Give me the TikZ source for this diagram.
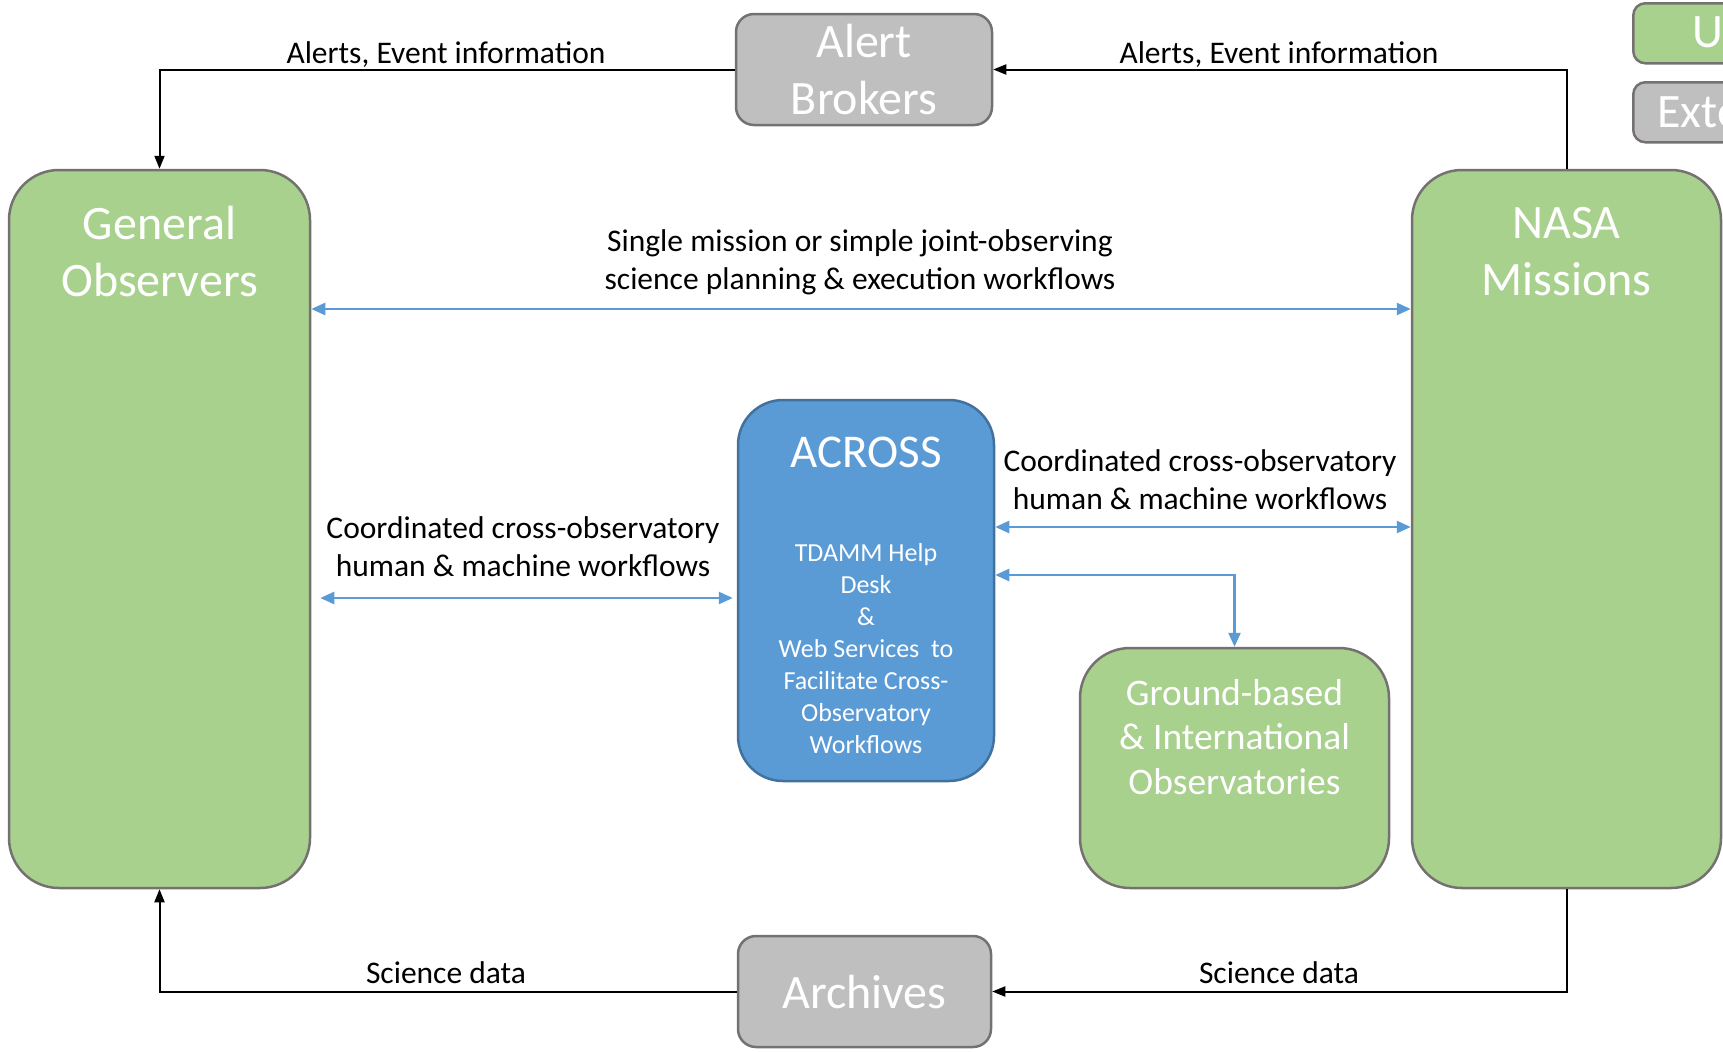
\documentclass[tikz,border=0pt]{standalone}
\usepackage{fontspec}
\setmainfont{Carlito}
\usetikzlibrary{arrows.meta}

\definecolor{boxgreen}{RGB}{169,209,142}
\definecolor{boxgrey}{RGB}{191,191,191}
\definecolor{boxblue}{RGB}{91,155,213}
\definecolor{edgegrey}{RGB}{118,113,113}
\definecolor{edgeblue}{RGB}{65,113,156}

\newcommand\titlefont{\fontsize{48}{57}\selectfont}
\newcommand\groundfont{\fontsize{37.5}{44.5}\selectfont}
\newcommand\smallfont{\fontsize{26}{32}\selectfont}
\newcommand\labelfont{\fontsize{31.5}{38}\selectfont}

\tikzset{every picture/.style={line width=1pt},
  greenbox/.style={draw=edgegrey, fill=boxgreen, line width=2.5pt, rounded corners=50pt, inner sep=0pt},
  greybox/.style={draw=edgegrey, fill=boxgrey, line width=2.5pt, rounded corners=18pt, inner sep=0pt, text=white, align=center, font=\titlefont},
  bluebox/.style={draw=edgeblue, fill=boxblue, line width=2.5pt, rounded corners=45pt, inner sep=0pt},
  boxtext/.style={text=white, align=center, inner sep=0pt},
  flowlabel/.style={align=center, inner sep=0pt, font=\labelfont},
  blackflow/.style={draw=black, line width=2pt, -{Triangle[width=10pt,length=13pt]}},
  blueflow/.style={draw=boxblue, line width=2.5pt, {Triangle[width=12pt,length=14pt]}-{Triangle[width=12pt,length=14pt]}}}

\begin{document}
\begin{tikzpicture}[x=1pt,y=1pt,yscale=-1]
	\useasboundingbox (0,0) rectangle (1723,1052);
	\clip (0,0) rectangle (1723,1052);

	%Shape: Rounded Rectangle [General Observers]
	\node [greenbox, minimum width=301pt, minimum height=718pt] (go) at (159.5,529) {};
	%Shape: Rounded Rectangle [NASA Missions]
	\node [greenbox, minimum width=309pt, minimum height=718pt] (nasa) at (1566.5,529) {};
	%Shape: Rounded Rectangle [Alert Brokers]
	\node [greybox, minimum width=256pt, minimum height=111pt] (brokers) at (864,69.5) {Alert\\Brokers};
	%Shape: Rounded Rectangle [Archives]
	\node [greybox, minimum width=253pt, minimum height=111pt] (archives) at (864.5,991.5) {Archives};
	%Shape: Rounded Rectangle [ACROSS]
	\node [bluebox, minimum width=256pt, minimum height=381pt] (across) at (866,590.5) {};
	%Shape: Rounded Rectangle [Ground-based]
	\node [greenbox, minimum width=309pt, minimum height=240pt] (ground) at (1234.5,768) {};
	%Shape: Legend boxes
	\node [greenbox, rounded corners=12pt, minimum width=200pt, minimum height=60pt, anchor=north west] (keyuser) at (1632,2) {};
	\node [greybox, rounded corners=12pt, minimum width=200pt, minimum height=60pt, anchor=north west] (keyext) at (1632,81) {};

	% Text Node
	\node [boxtext, font=\titlefont] (go-t) at (159.5,252) {General\\Observers};
	% Text Node
	\node [boxtext, font=\titlefont] (nasa-t) at (1566.5,252) {NASA\\Missions};
	% Text Node
	\node [boxtext, font=\fontsize{47}{52}\selectfont] (across-t) at (866,452) {ACROSS};
	% Text Node
	\node [boxtext, font=\smallfont] (across-b) at (866,649) {TDAMM Help\\Desk\\\&\\Web Services\ \ to\\Facilitate Cross-\\Observatory\\Workflows};
	% Text Node
	\node [boxtext, font=\groundfont] (ground-t) at (1234.5,737) {Ground-based\\\& International\\Observatories};
	% Text Node
	\node [boxtext, font=\titlefont, anchor=west] (keyuser-t) at (1692,32) {Users};
	% Text Node
	\node [boxtext, font=\titlefont, anchor=west] (keyext-t) at (1657,111) {External};

	%Connectors: alerts
	\draw [blackflow] (brokers.west) -| (go.north);
	\draw [blackflow] (nasa.north) |- (brokers.east);
	%Connectors: science data
	\draw [blackflow] (nasa.south) |- (archives.east);
	\draw [blackflow] (archives.west) -| (go.south);

	%Connectors: workflows
	\coordinate (single) at (0,309);
	\coordinate (coordl) at (0,598);
	\coordinate (coordr) at (0,527);
	\coordinate (groundl) at (0,575);
	\draw [blueflow] (go.east |- single) -- (nasa.west |- single);
	\draw [blueflow, shorten <=9pt, shorten >=4pt] (go.east |- coordl) -- (across.west |- coordl);
	\draw [blueflow] (across.east |- coordr) -- (nasa.west |- coordr);
	\draw [blueflow] (across.east |- groundl) -| (ground.north);

	% Text Node
	\node [flowlabel, anchor=base] (lab1) at (446,63) {Alerts, Event information};
	% Text Node
	\node [flowlabel, anchor=base] (lab2) at (1279,63) {Alerts, Event information};
	% Text Node
	\node [flowlabel] (lab3) at (860,262) {Single mission or simple joint-observing\\science planning \& execution workflows};
	% Text Node
	\node [flowlabel] (lab4) at (523,547) {Coordinated cross-observatory\\human \& machine workflows};
	% Text Node
	\node [flowlabel] (lab5) at (1200,480) {Coordinated cross-observatory\\human \& machine workflows};
	% Text Node
	\node [flowlabel, anchor=base] (lab6) at (446,983) {Science data};
	% Text Node
	\node [flowlabel, anchor=base] (lab7) at (1279,983) {Science data};

\end{tikzpicture}
\end{document}
